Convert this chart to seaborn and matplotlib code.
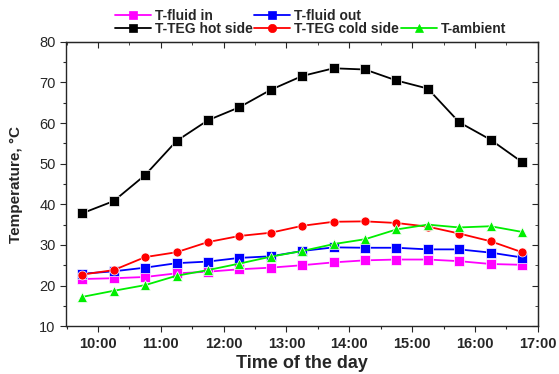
import seaborn as sns
import matplotlib.pyplot as plt
from matplotlib.lines import Line2D
import numpy as np
import pandas as pd

# measurement times (hours), every 30 min starting 9:45
hours = [9.75, 10.25, 10.75, 11.25, 11.75, 12.25, 12.75, 13.25,
         13.75, 14.25, 14.75, 15.25, 15.75, 16.25, 16.75]

t_fluid_in = [21.6, 21.8, 22.1, 23.0, 23.4, 24.0, 24.4, 25.0,
              25.7, 26.2, 26.4, 26.4, 26.0, 25.3, 25.1]
t_fluid_out = [22.9, 23.5, 24.4, 25.5, 25.9, 26.8, 27.2, 28.5,
               29.4, 29.3, 29.3, 28.9, 28.9, 28.1, 26.9]
t_hot = [37.8, 40.8, 47.2, 55.6, 60.7, 63.9, 68.2, 71.6,
         73.5, 73.2, 70.5, 68.5, 60.2, 55.9, 50.4]
t_cold = [22.7, 23.8, 27.0, 28.2, 30.7, 32.2, 33.0, 34.7,
          35.7, 35.8, 35.4, 34.5, 32.8, 30.9, 28.2]
t_ambient = [17.2, 18.7, 20.1, 22.4, 23.8, 25.4, 27.1, 28.5,
             30.2, 31.4, 33.8, 35.0, 34.3, 34.6, 33.2]

series = {'T-fluid in': t_fluid_in, 'T-fluid out': t_fluid_out,
          'T-TEG hot side': t_hot, 'T-TEG cold side': t_cold,
          'T-ambient': t_ambient}
colors = {'T-fluid in': '#ff00ff', 'T-fluid out': '#0000ff',
          'T-TEG hot side': '#000000', 'T-TEG cold side': '#ff0000',
          'T-ambient': '#00ee00'}
markers = {'T-fluid in': 's', 'T-fluid out': 's', 'T-TEG hot side': 's',
           'T-TEG cold side': 'o', 'T-ambient': '^'}

frames = [pd.DataFrame({'hour': hours, 'temp': v, 'series': k}) for k, v in series.items()]
df = pd.concat(frames, ignore_index=True)

sns.set_style('ticks')
plt.rcParams['font.family'] = ['Liberation Sans', 'DejaVu Sans']
plt.rcParams['font.weight'] = 'bold'

fig = plt.figure(figsize=(5.59, 3.74), dpi=100)
ax = fig.add_axes([0.118, 0.128, 0.844, 0.76])

sns.lineplot(data=df, x='hour', y='temp', hue='series', style='series',
             palette=colors, markers=markers, dashes=False, markersize=6.5,
             markeredgewidth=0.5, linewidth=1.3, ax=ax, legend=False)

ax.set_xlim(9.49, 17.0)
ax.set_ylim(10, 80)
ax.set_xticks(range(10, 18))
ax.set_xticklabels(['%d:00' % h for h in range(10, 18)], fontsize=10.5, fontweight='bold')
ax.set_xticks(np.arange(9.5, 17.0, 0.5), minor=True)
ax.set_yticks(range(10, 81, 10))
ax.set_yticklabels([str(v) for v in range(10, 81, 10)], fontsize=10.5, fontweight='normal')
ax.set_yticks(range(15, 80, 10), minor=True)
ax.tick_params(which='major', direction='out', length=4, width=0.8)
ax.tick_params(which='minor', direction='out', length=2.5, width=0.8)
for s in ax.spines.values():
    s.set_linewidth(1.0)

# mirrored inward ticks on top and right
top = ax.secondary_xaxis('top')
top.set_xticks(range(10, 18))
top.set_xticks(np.arange(9.5, 17.0, 0.5), minor=True)
top.set_xticklabels([])
top.tick_params(which='major', direction='in', length=4)
top.tick_params(which='minor', direction='in', length=2.5)
right = ax.secondary_yaxis('right')
right.set_yticks(range(10, 81, 10))
right.set_yticks(range(15, 80, 10), minor=True)
right.set_yticklabels([])
right.tick_params(which='major', direction='in', length=4)
right.tick_params(which='minor', direction='in', length=2.5)

ax.set_xlabel('Time of the day', fontsize=13, fontweight='bold', labelpad=3)
ax.set_ylabel('Temperature, \u00b0C', fontsize=11, fontweight='bold', labelpad=12)

handles = {}
for k in series:
    handles[k] = Line2D([], [], color=colors[k], marker=markers[k], markersize=6,
                        linewidth=1.3, markeredgewidth=0.5)
blank = Line2D([], [], linestyle='none')
order = ['T-fluid in', 'T-TEG hot side', 'T-fluid out', 'T-TEG cold side', None, 'T-ambient']
hl = [handles[k] if k else blank for k in order]
lab = [k if k else '' for k in order]
fig.legend(hl, lab, ncol=3, loc='upper left', bbox_to_anchor=(0.19, 0.998),
           frameon=False, prop={'weight': 'bold', 'size': 10},
           handlelength=2.6, handletextpad=0.3, columnspacing=0.1,
           labelspacing=-0.1, borderaxespad=0.2)

fig.savefig('out.png', dpi=100)
